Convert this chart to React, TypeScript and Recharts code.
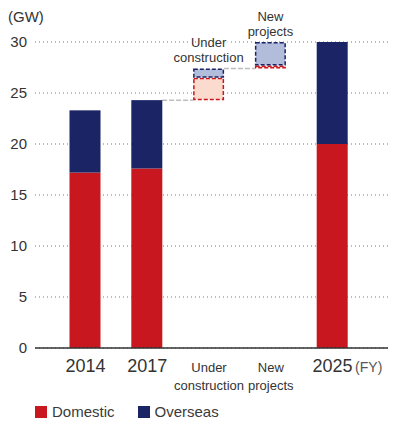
import React from "react";
import { BarChart, Bar, XAxis, YAxis, CartesianGrid, Legend, LabelList } from "recharts";

const categories = ["2014", "2017", "Under construction", "New projects", "2025"];
const baseValues = [0, 0, 24.3, 27.4, 0];
const domesticValues = [17.2, 17.6, 2.2, 0.3, 20];
const overseasValues = [6.1, 6.7, 0.9, 2.3, 10];
const yTicks = [0, 5, 10, 15, 20, 25, 30];
const floating = ["Under construction", "New projects"];

const RED = "#c8171f";
const NAVY = "#1b2566";
const PINK = "#fbdbcd";
const LIGHT_BLUE = "#b2bddb";
const TEXT = "#333";
const FONT = "'Liberation Sans', Arial, Helvetica, sans-serif";

const data = categories.map((name, i) => ({
  name,
  base: baseValues[i],
  domestic: domesticValues[i],
  overseas: overseasValues[i],
}));

const makeShape = (solid: string, light: string, connector: boolean) => (props: any) => {
  const { x, y, width, height, payload } = props;
  if (!floating.includes(payload.name)) {
    return <rect x={x} y={y} width={width} height={height} fill={solid} />;
  }
  return (
    <g>
      {connector && (
        <line
          x1={x - width}
          x2={x}
          y1={y + height}
          y2={y + height}
          stroke="#bdbdbd"
          strokeWidth={1.5}
          strokeDasharray="5 2"
        />
      )}
      <rect
        x={x + 0.75}
        y={y + 0.75}
        width={width - 1.5}
        height={Math.max(height - 1.5, 0.5)}
        fill={light}
        stroke={solid}
        strokeWidth={1.5}
        strokeDasharray="4 2"
      />
    </g>
  );
};

const TopLabel = (props: any) => {
  const { x, y, width, index } = props;
  const name = categories[index];
  if (!floating.includes(name)) return null;
  const [l1, l2] = name.split(" ");
  const cx = x + width / 2;
  return (
    <text
      textAnchor="middle"
      fontSize={13}
      fill={TEXT}
      stroke="#fff"
      strokeWidth={3}
      paintOrder="stroke"
      fontFamily={FONT}
    >
      <tspan x={cx} y={y - 21.5}>{l1}</tspan>
      <tspan x={cx} y={y - 6.5}>{l2}</tspan>
    </text>
  );
};

const XTick = (props: any) => {
  const { x, y, payload } = props;
  const v: string = payload.value;
  if (floating.includes(v)) {
    const [l1, l2] = v.split(" ");
    return (
      <text textAnchor="middle" fontSize={13} fill={TEXT} fontFamily={FONT}>
        <tspan x={x} y={y + 24}>{l1}</tspan>
        <tspan x={x} y={y + 42}>{l2}</tspan>
      </text>
    );
  }
  return (
    <g>
      <text x={x} y={y + 23.5} textAnchor="middle" fontSize={18} fill={TEXT} fontFamily={FONT}>
        {v}
      </text>
      {v === "2025" && (
        <text x={x + 22.5} y={y + 24} fontSize={14} fill="#555" fontFamily={FONT}>
          (FY)
        </text>
      )}
    </g>
  );
};

const LegendContent = () => (
  <div
    style={{
      display: "flex",
      alignItems: "flex-end",
      height: 30,
      lineHeight: "12px",
      boxSizing: "border-box",
      fontFamily: FONT,
      fontSize: 15,
      color: "#3a3a3a",
    }}
  >
    <span style={{ width: 12, height: 12, background: RED, display: "inline-block", marginRight: 5 }} />
    <span>Domestic</span>
    <span
      style={{ width: 12, height: 12, background: NAVY, display: "inline-block", marginLeft: 23, marginRight: 5 }}
    />
    <span>Overseas</span>
  </div>
);

export default function App() {
  return (
    <BarChart
      width={388}
      height={410}
      data={data}
      margin={{ top: 34, right: 0, bottom: 0, left: 0 }}
      barSize={31}
      style={{ fontFamily: FONT }}
    >
      <CartesianGrid vertical={false} stroke="#777" strokeDasharray="1 3" />
      <XAxis
        dataKey="name"
        height={40}
        padding={{ left: 19.5, right: 32.5 }}
        tickLine={false}
        tickSize={0}
        tickMargin={0}
        axisLine={{ stroke: "#333", strokeWidth: 1.5 }}
        tick={<XTick />}
        interval={0}
      />
      <YAxis
        width={27}
        domain={[0, 30]}
        ticks={yTicks}
        axisLine={false}
        tickLine={false}
        tickSize={0}
        tickMargin={8}
        tick={{ fontSize: 15, fill: TEXT }}
        label={(p: any) => (
          <text x={0} y={(p.viewBox?.y ?? 34) - 20} fontSize={15} fill={TEXT} fontFamily={FONT}>
            (GW)
          </text>
        )}
      />
      <Legend
        verticalAlign="bottom"
        align="left"
        content={<LegendContent />}
        wrapperStyle={{ left: 27, width: 300 }}
      />
      <Bar dataKey="base" stackId="a" fill="none" isAnimationActive={false} legendType="none" />
      <Bar
        dataKey="domestic"
        stackId="a"
        fill={RED}
        isAnimationActive={false}
        shape={makeShape(RED, PINK, true)}
      />
      <Bar
        dataKey="overseas"
        stackId="a"
        fill={NAVY}
        isAnimationActive={false}
        shape={makeShape(NAVY, LIGHT_BLUE, false)}
      >
        <LabelList dataKey="overseas" content={<TopLabel />} />
      </Bar>
    </BarChart>
  );
}
